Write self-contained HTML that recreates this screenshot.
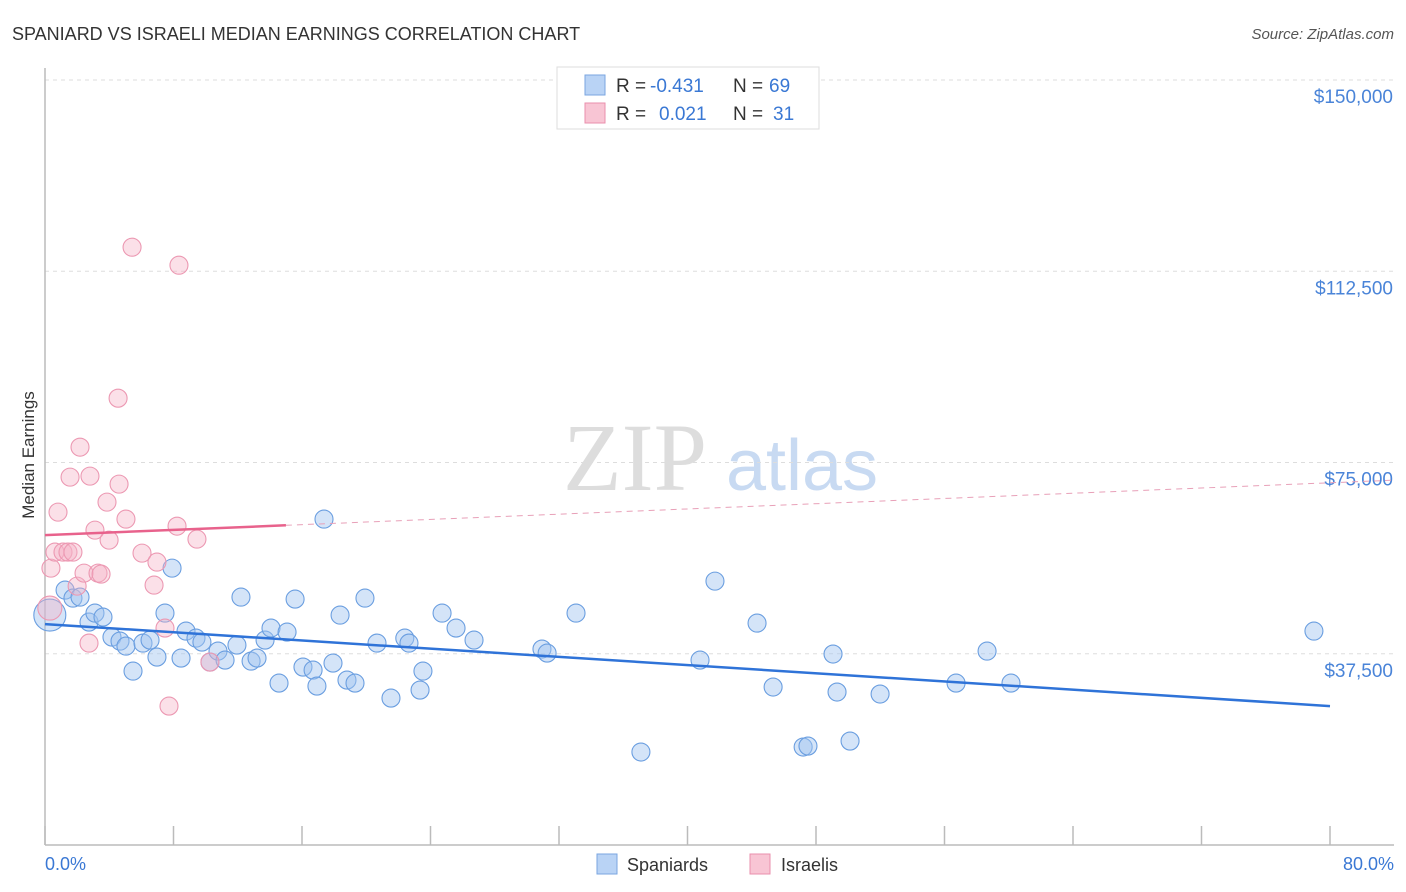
<!DOCTYPE html>
<html><head><meta charset="utf-8"><style>
body{margin:0;background:#fff;font-family:"Liberation Sans",sans-serif;}
#wrap{position:relative;width:1406px;height:892px;overflow:hidden}
</style></head><body>
<div id="wrap">
<svg id="svg" width="1406" height="892" xmlns="http://www.w3.org/2000/svg">
<text x="12" y="40" font-size="18" fill="#333">SPANIARD VS ISRAELI MEDIAN EARNINGS CORRELATION CHART</text>
<text x="1394" y="39" font-size="15" fill="#555" font-style="italic" text-anchor="end">Source: ZipAtlas.com</text>
<text x="34" y="455" font-size="17" fill="#333" text-anchor="middle" transform="rotate(-90 34 455)">Median Earnings</text>
<g>
<text x="635" y="490" font-size="96" fill="#ddd" font-family="Liberation Serif,serif" text-anchor="middle">ZIP</text>
<text x="802" y="490" font-size="72" fill="#c8daf2" text-anchor="middle">atlas</text>
</g>
<g id="grid"></g>
<line x1="45" y1="68" x2="45" y2="845" stroke="#bbb" stroke-width="1.5"/>
<line x1="45" y1="845" x2="1394" y2="845" stroke="#bbb" stroke-width="1.5"/>
<g id="ticks"></g>
<g id="pts"></g>
<g id="trend"></g>
<text x="45" y="870" font-size="18" fill="#3a78d4">0.0%</text>
<text x="1394" y="870" font-size="18" fill="#3a78d4" text-anchor="end">80.0%</text>
<g>
<rect x="557" y="67" width="262" height="62" fill="#fff" stroke="#ddd"/>
<rect x="585" y="75" width="20" height="20" fill="#b9d3f5" stroke="#7aa6e0"/>
<rect x="585" y="103" width="20" height="20" fill="#f8c5d4" stroke="#ea8fac"/>
<text x="616" y="92" font-size="19" fill="#333">R = </text><text x="650" y="92" font-size="19" fill="#3a78d4">-0.431</text>
<text x="733" y="92" font-size="19" fill="#333">N = </text><text x="769" y="92" font-size="19" fill="#3a78d4">69</text>
<text x="616" y="120" font-size="19" fill="#333">R = </text><text x="659" y="120" font-size="19" fill="#3a78d4">0.021</text>
<text x="733" y="120" font-size="19" fill="#333">N = </text><text x="773" y="120" font-size="19" fill="#3a78d4">31</text>
</g>
<g>
<rect x="597" y="854" width="20" height="20" fill="#b9d3f5" stroke="#7aa6e0"/>
<text x="627" y="871" font-size="18" fill="#333">Spaniards</text>
<rect x="750" y="854" width="20" height="20" fill="#f8c5d4" stroke="#ea8fac"/>
<text x="781" y="871" font-size="18" fill="#333">Israelis</text>
</g>
</svg>
</div>
<script>
const yTicks=[37500,75000,112500,150000];
const yTickLabels=["$37,500","$75,000","$112,500","$150,000"];
const xTicks=[0,8,16,24,32,40,48,56,64,72,80];
const spanX=[0.3,1.25,1.74,2.18,2.74,3.11,3.61,4.17,4.67,5.04,5.48,6.1,6.54,6.97,7.47,7.91,8.47,8.78,9.4,9.77,10.27,10.77,11.21,11.95,12.2,12.83,13.2,13.7,14.07,14.57,15.07,15.57,16.06,16.69,16.93,17.37,17.93,18.37,18.8,19.3,19.92,20.67,21.54,22.4,22.66,23.35,23.53,24.72,25.59,26.71,30.94,31.26,33.06,37.1,40.78,41.71,44.33,45.33,47.2,47.5,49.06,49.31,50.12,51.99,56.72,58.65,60.14,79.0];
const spanY=[45080,49980,48410,48610,43710,45470,44690,40770,39980,39000,34100,39590,40180,36850,45470,54290,36650,41940,40570,39790,35870,38020,36260,39200,48610,36060,36650,40180,42530,31750,41750,48220,34890,34300,31160,63900,35670,45080,32340,31750,48410,39590,28810,40570,39590,30380,34100,45470,42530,40180,38420,37630,45470,18230,36260,51740,43510,30970,19210,19400,37440,29990,20380,29600,31750,38020,31750,41940];
const isrX=[0.3,0.37,0.62,0.81,1.12,1.43,1.56,1.74,2.0,2.18,2.43,2.74,2.8,3.11,3.3,3.49,3.86,3.99,4.55,4.61,5.04,5.42,6.04,6.79,6.97,7.47,7.72,8.22,8.34,9.46,10.27];
const isrY=[46450,54290,57430,65270,57430,57430,72130,57430,50760,78010,53310,39590,72330,61740,53310,53120,67230,59780,87610,70760,63900,117210,57230,50960,55470,42530,27240,62520,113680,59980,35870];
const spanTrend=[43320,27240];
const isrTrend=[60760,71540];
const NS="http://www.w3.org/2000/svg";
const sx=v=>45+v/80*1285, sy=v=>845-v/150000*765;
function mk(t,a,p){const e=document.createElementNS(NS,t);for(const k in a)e.setAttribute(k,a[k]);document.getElementById(p).appendChild(e);return e;}
yTicks.forEach((v,i)=>{
 const l=mk('line',{x1:45,x2:1394,y1:sy(v),y2:sy(v),stroke:'#ddd','stroke-dasharray':'4,4'},'grid');
 
 
 const t=mk('text',{x:1393,y:sy(v)+23,'font-size':19,fill:'#4a84d8','text-anchor':'end'},'grid');
 t.textContent=yTickLabels[i];
 
 
});
xTicks.forEach(v=>{
 const l=mk('line',{x1:sx(v),x2:sx(v),y1:826,y2:845,stroke:'#bbb','stroke-width':1.5},'ticks');
 
 
});
spanX.forEach((x,i)=>{
 const c=mk('circle',{cx:sx(x),cy:sy(spanY[i]),r:i==0?16:9,fill:'rgba(160,196,240,0.45)',stroke:'#6a9ee0','stroke-width':1.1},'pts');
 
 
});
isrX.forEach((x,i)=>{
 const c=mk('circle',{cx:sx(x),cy:sy(isrY[i]),r:i==0?12:9,fill:'rgba(245,178,198,0.4)',stroke:'#ec98b2','stroke-width':1.1},'pts');
 
 
});
const bl=mk('line',{x1:sx(0),y1:sy(spanTrend[0]),x2:sx(80),y2:sy(spanTrend[1]),stroke:'#2f73d8','stroke-width':2.5},'trend');


const pe=x=>isrTrend[0]+(isrTrend[1]-isrTrend[0])*x/84;
const ps=mk('line',{x1:sx(0),y1:sy(pe(0)),x2:sx(15),y2:sy(pe(15)),stroke:'#e8628c','stroke-width':2.5},'trend');


const pd=mk('line',{x1:sx(15),y1:sy(pe(15)),x2:sx(84),y2:sy(pe(84)),stroke:'#e8a0b8','stroke-width':1,'stroke-dasharray':'6,5'},'trend');


</script>
</body></html>
